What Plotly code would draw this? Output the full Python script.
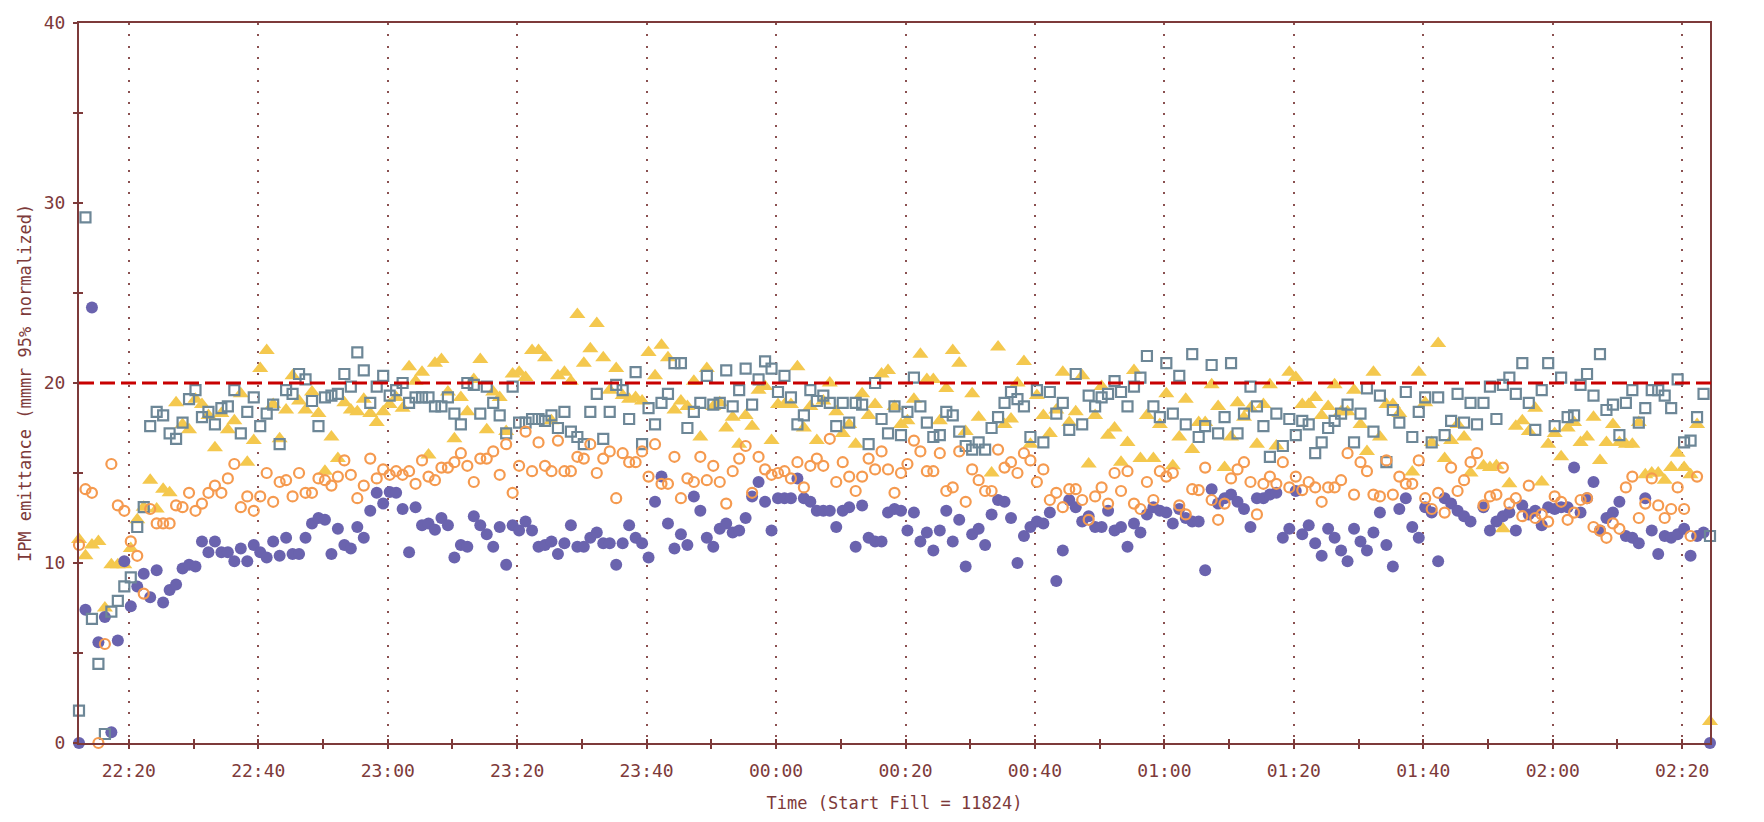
import plotly.graph_objects as go
import pandas as pd

# ---------------- data (one reading per minute, IPM emittance) ----------------
START_TIME = "2024-01-01 22:12:18"
THRESHOLD = 20

purple = [
    0, 7.4, 24.2, 5.6, 7.0, 0.6, 5.7, 10.1, 7.6, 8.7,
    9.4, 8.1, 9.6, 7.8, 8.5, 8.8, 9.7, 9.9, 9.8, 11.2,
    10.6, 11.2, 10.6, 10.6, 10.1, 10.8, 10.1, 11.0, 10.6, 10.3,
    11.2, 10.4, 11.4, 10.5, 10.5, 11.4, 12.2, 12.5, 12.4, 10.5,
    11.9, 11.0, 10.8, 12.0, 11.4, 12.9, 13.9, 13.3, 13.95, 13.9,
    13.0, 10.6, 13.1, 12.1, 12.2, 11.85, 12.5, 12.1, 10.3, 11.0,
    10.9, 12.6, 12.1, 11.6, 10.9, 12.0, 9.9, 12.1, 11.8, 12.3,
    11.8, 10.9, 11.0, 11.2, 10.5, 11.1, 12.1, 10.9, 10.9, 11.4,
    11.7, 11.1, 11.1, 9.9, 11.1, 12.1, 11.4, 11.1, 10.3, 13.4,
    14.8, 12.2, 10.8, 11.6, 11.0, 13.7, 12.9, 11.4, 10.9, 11.9,
    12.2, 11.7, 11.8, 12.5, 13.7, 14.5, 13.4, 11.8, 13.6, 13.6,
    13.6, 14.7, 13.6, 13.4, 12.9, 12.9, 12.9, 12.0, 12.9, 13.1,
    10.9, 13.2, 11.4, 11.2, 11.2, 12.8, 13.0, 12.9, 11.8, 12.8,
    11.2, 11.7, 10.7, 11.8, 12.9, 11.2, 12.4, 9.8, 11.6, 11.9,
    11.0, 12.7, 13.5, 13.4, 12.5, 10.0, 11.5, 12.0, 12.3, 12.2,
    12.8, 9.0, 10.7, 13.5, 13.1, 12.3, 12.6, 12.0, 12.0, 12.9,
    11.8, 12.0, 10.9, 12.2, 11.7, 12.7, 13.1, 12.9, 12.8, 12.2,
    13.0, 12.5, 12.3, 12.3, 9.6, 14.1, 13.3, 13.6, 13.8, 13.4,
    13.0, 12.0, 13.6, 13.6, 13.8, 13.9, 11.4, 11.9, 14.0, 11.6,
    12.1, 11.1, 10.4, 11.9, 11.4, 10.7, 10.1, 11.9, 11.2, 10.7,
    11.7, 12.8, 11.0, 9.8, 13.0, 13.6, 12.0, 11.4, 13.1, 12.8,
    10.1, 13.6, 13.3, 12.9, 12.6, 12.3, None, 13.1, 11.8, 12.3,
    12.6, 12.8, 11.8, 13.2, 12.7, 12.9, 12.1, 13.1, 13.0, 13.1,
    13.1, 15.3, 12.8, 13.6, 14.5, 11.8, 12.5, 12.8, 13.4, 11.5,
    11.4, 11.1, 13.6, 11.8, 10.5, 11.5, 11.4, 11.6, 11.9, 10.4,
    11.5, 11.7, 0,
]

slate = [
    1.8, 29.2, 6.9, 4.4, 0.5, 7.3, 7.9, 8.7, 9.2, 12.0,
    13.1, 17.6, 18.4, 18.2, 17.2, 16.9, 17.8, 19.1, 19.6, 18.1,
    18.4, 17.7, 18.6, 18.7, 19.6, 17.2, 18.4, 19.2, 17.6, 18.3,
    18.8, 16.6, 19.6, 19.4, 20.5, 20.2, 19.0, 17.6, 19.2, 19.3,
    19.4, 20.5, 19.8, 21.7, 20.7, 18.9, 19.8, 20.4, 19.3, 19.6,
    20.0, 18.9, 19.2, 19.2, 19.2, 18.7, 18.7, 19.2, 18.3, 17.7,
    20.0, 19.9, 18.3, 19.8, 18.9, 18.2, 17.2, 19.8, 17.8, 17.8,
    18.0, 18.0, 17.9, 18.2, 17.5, 18.4, 17.3, 17.0, 16.6, 18.4,
    19.4, 16.9, 18.4, 19.9, 19.6, 18.0, 20.6, 16.6, 18.6, 17.7,
    18.9, 19.4, 21.1, 21.1, 17.5, 18.4, 18.9, 20.4, 18.8, 18.9,
    20.7, 18.7, 19.6, 20.8, 18.8, 20.2, 21.2, 20.8, 19.5, 20.4,
    19.2, 17.7, 18.2, 19.6, 19.0, 19.3, 18.9, 17.6, 18.9, 17.8,
    18.9, 18.8, 16.6, 20.0, 18.0, 17.2, 18.7, 17.1, 18.4, 20.3,
    18.7, 17.8, 17.0, 17.1, 18.4, 18.2, 17.3, 16.5, 16.3, 16.7,
    16.3, 17.5, 18.1, 18.9, 19.5, 19.1, 18.7, 17.0, 19.6, 16.7,
    19.5, 18.3, 18.9, 17.4, 20.5, 17.7, 19.3, 18.7, 19.2, 19.4,
    20.1, 19.5, 18.7, 19.8, 20.3, 21.5, 18.7, 18.1, 21.1, 18.3,
    20.4, 17.7, 21.6, 17.0, 17.6, 21.0, 17.2, 18.1, 21.1, 17.2,
    18.3, 19.8, 18.7, 17.6, 15.9, 18.3, 16.5, 18.0, 17.1, 17.9,
    17.7, 16.1, 16.7, 17.5, 17.9, 18.3, 18.8, 16.7, 18.3, 19.7,
    17.3, 19.3, 15.6, 18.5, 17.8, 19.5, 17.0, 18.4, 19.2, 16.7,
    19.2, 17.1, 17.9, 19.4, 17.8, 18.9, 17.7, 18.9, 19.8, 18.0,
    19.9, 20.3, 19.4, 21.1, 18.9, 17.4, 19.6, 21.1, 17.6, 20.3,
    18.1, 18.2, 19.9, 20.5, 19.3, 21.6, 18.5, 18.8, 17.1, 18.9,
    19.6, 17.8, 18.6, 19.6, 19.6, 19.3, 18.6, 20.2, 16.7, 16.8,
    18.1, 19.4, 11.5,
]

orange = [
    11.0, 14.1, 13.9, 0.0, 5.5, 15.5, 13.2, 12.9, 11.2, 10.4,
    8.3, 13.0, 12.2, 12.2, 12.2, 13.2, 13.1, 13.9, 12.9, 13.3,
    13.9, 14.3, 13.9, 14.7, 15.5, 13.1, 13.7, 12.9, 13.7, 15.0,
    13.4, 14.5, 14.6, 13.7, 15.0, 13.9, 13.9, 14.7, 14.6, 14.3,
    14.8, 15.7, 14.9, 13.6, 14.3, 15.8, 14.7, 15.2, 14.9, 15.1,
    14.9, 15.1, 14.4, 15.7, 14.8, 14.6, 15.3, 15.3, 15.6, 16.1,
    15.4, 14.5, 15.8, 15.8, 16.2, 14.9, 16.6, 13.9, 15.4, 17.3,
    15.1, 16.7, 15.4, 15.1, 16.8, 15.1, 15.1, 15.9, 15.8, 16.6,
    15.0, 15.8, 16.2, 13.6, 16.1, 15.6, 15.6, 16.2, 14.8, 16.6,
    14.4, 14.4, 15.9, 13.6, 14.7, 14.5, 15.9, 14.6, 15.4, 14.5,
    13.3, 15.1, 15.8, 16.5, 13.9, 15.9, 15.2, 14.9, 15.0, 15.1,
    14.7, 15.6, 14.2, 15.4, 15.8, 15.4, 16.9, 14.5, 15.6, 14.8,
    14.0, 14.8, 15.8, 15.2, 16.2, 15.2, 13.9, 15.0, 15.5, 16.8,
    16.2, 15.1, 15.1, 16.1, 14.0, 14.2, 16.2, 13.4, 15.2, 14.6,
    14.0, 14.0, 16.3, 15.3, 15.6, 15.0, 16.1, 15.7, 14.5, 15.2,
    13.5, 13.9, 13.1, 14.1, 14.1, 13.5, 12.4, 13.7, 14.2, 13.3,
    15.0, 14.0, 15.1, 13.3, 13.0, 14.5, 13.5, 15.1, 14.8, 15.0,
    13.2, 12.7, 14.1, 14.05, 15.3, 13.5, 12.4, 13.3, 14.7, 15.2,
    15.6, 14.5, 12.7, 14.4, 14.8, 14.4, 15.6, 14.2, 14.8, 14.05,
    14.5, 14.2, 13.4, 14.2, 14.2, 14.6, 16.1, 13.8, 15.6, 15.1,
    13.8, 13.7, 15.7, 13.8, 14.8, 14.4, 14.4, 15.7, 13.6, 13.0,
    13.9, 12.8, 15.3, 14.0, 14.6, 15.6, 16.1, 13.2, 13.7, 13.8,
    15.3, 13.3, 13.6, 12.6, 14.3, 12.5, 12.7, 12.3, 13.7, 13.4,
    12.4, 12.8, 13.5, 13.6, 12.0, 11.8, 11.4, 12.2, 11.9, 14.2,
    14.8, 12.5, 13.3, 14.7, 13.2, 12.5, 13.0, 14.2, 13.0, 11.5,
    14.8, None, None,
]

yellow = [
    11.3, 10.4, 11.0, 11.2, 7.5, 9.9, 9.9, 9.9, 10.8, 12.4,
    13.1, 14.6, 13.0, 14.1, 13.9, 18.9, 17.7, 17.4, 19.1, 18.8,
    18.2, 16.4, 18.3, 17.4, 17.9, 19.4, 15.6, 16.8, 20.8, 21.8,
    18.8, 16.9, 18.5, 20.4, 19.0, 18.5, 19.5, 18.3, 15.1, 17.0,
    15.8, 18.9, 18.5, 18.4, 19.1, 18.3, 17.8, 18.4, 18.8, 19.2,
    18.6, 20.9, 20.1, 20.6, 16.0, 21.1, 21.3, 19.5, 16.9, 19.2,
    18.4, 20.2, 21.3, 17.4, 19.5, 19.2, 17.3, 20.5, 20.6, 20.3,
    21.8, 21.8, 21.4, 17.9, 20.4, 20.6, 20.1, 23.8, 21.1, 21.9,
    23.3, 21.4, 19.6, 20.8, 19.3, 19.1, 19.2, 19.0, 21.7, 20.4,
    22.1, 21.4, 18.5, 19.0, 18.7, 20.1, 17.0, 20.8, 18.7, 18.9,
    17.5, 18.1, 16.6, 18.2, 17.6, 19.6, 19.8, 16.8, 18.8, 18.8,
    18.8, 20.9, 17.5, 18.7, 16.8, 19.0, 20.0, 18.4, 17.2, 17.7,
    16.6, 19.4, 18.2, 18.8, 20.5, 20.7, 18.7, 17.7, 17.9, 19.1,
    21.6, 20.2, 20.2, 17.9, 19.7, 21.8, 21.1, 17.3, 19.4, 18.1,
    None, 15.0, 22.0, 17.7, 18.0, 20.0, 21.2, 16.6, 19.3, 18.2,
    17.2, 18.5, 20.6, 17.8, 18.4, 20.4, 15.5, 18.2, 19.8, 17.1,
    17.5, 15.6, 16.7, 20.7, 15.8, 18.2, 15.8, 17.7, 19.4, 15.4,
    17.0, 19.1, 16.3, 17.8, 17.8, 19.9, 18.7, 15.3, 17.0, 18.9,
    18.1, 18.6, 16.6, 18.8, 19.9, 16.5, None, 20.6, 20.3, 18.8,
    18.8, 19.2, 18.2, 18.7, 19.9, 18.4, 18.4, 19.6, 17.7, 16.2,
    20.6, 17.0, 18.8, 18.8, 18.3, None, 15.05, 20.6, 18.9, 16.7,
    22.2, 15.8, 16.8, 17.7, 17.0, 15.0, None, 15.4, 15.3, 15.4,
    11.9, 14.4, 17.6, 17.9, 17.3, 18.6, 14.5, 16.6, 17.2, 15.9,
    17.5, 17.8, 16.7, 17.0, 18.1, 15.7, 16.7, 17.7, 16.7, 16.6,
    16.6, 17.8, 14.9, 15.0, 15.0, 14.6, 15.3, 16.1, 15.3, 14.9,
    17.7, None, 1.2,
]

for name, arr in [("purple", purple), ("slate", slate), ("orange", orange), ("yellow", yellow)]:
    if len(arr) != 253:
        raise SystemExit(f"{name} has {len(arr)} values")

times = pd.date_range(START_TIME, periods=len(purple), freq="1min")

# ---------------- styling ----------------
AX = "#7d3a3a"
FONT = "DejaVu Sans Mono"
C_PURPLE = "#6a63ae"
C_SLATE = "#6d8797"
C_ORANGE = "#f59a4f"
C_YELLOW = "#f4c84e"

fig = go.Figure()
fig.add_trace(go.Scatter(x=times, y=yellow, mode="markers", cliponaxis=False,
                         marker=dict(symbol="triangle-up", size=14, color=C_YELLOW, line=dict(width=0))))
fig.add_trace(go.Scatter(x=times, y=purple, mode="markers", cliponaxis=False,
                         marker=dict(symbol="circle", size=12, color=C_PURPLE, line=dict(width=0))))
fig.add_trace(go.Scatter(x=times, y=slate, mode="markers", cliponaxis=False,
                         marker=dict(symbol="square-open", size=10, color=C_SLATE, line=dict(width=2.2, color=C_SLATE))))
fig.add_trace(go.Scatter(x=times, y=orange, mode="markers", cliponaxis=False,
                         marker=dict(symbol="circle-open", size=10, color=C_ORANGE, line=dict(width=2.2, color=C_ORANGE))))
# dummy trace for the overlay axes (inner half of the crossing ticks)
fig.add_trace(go.Scatter(x=[times[0]], y=[None], xaxis="x2", yaxis="y2", mode="markers",
                         hoverinfo="skip", showlegend=False))

fig.add_shape(type="line", xref="paper", x0=0, x1=1.003, yref="y", y0=THRESHOLD, y1=THRESHOLD,
              line=dict(color="#c80000", width=3, dash="15px,6px"), layer="above")

x_range = [times[0], times[-1]]
tick0 = "2024-01-01 22:20:00"
major = 20 * 60 * 1000
minor = 10 * 60 * 1000

fig.update_layout(
    width=1764, height=822, autosize=False,
    margin=dict(l=79, r=54, t=16, b=78),
    paper_bgcolor="white", plot_bgcolor="white",
    showlegend=False,
    xaxis=dict(
        type="date", range=x_range, tick0=tick0, dtick=major, tickformat="%H:%M",
        showline=True, linecolor=AX, linewidth=2, mirror=True,
        ticks="outside", ticklen=4, tickwidth=2, tickcolor=AX,
        minor=dict(dtick=minor, tick0=tick0, ticks="outside", ticklen=4, tickwidth=2, tickcolor=AX, showgrid=False),
        showgrid=True, gridcolor="#8a5050", gridwidth=1.6, griddash="2px,9.3px",
        zeroline=False, ticklabelstandoff=6,
        tickfont=dict(family=FONT, size=18, color=AX),
        title=dict(text="Time (Start Fill = 11824)", font=dict(family=FONT, size=17, color=AX), standoff=18),
    ),
    yaxis=dict(
        range=[0, 40], tick0=0, dtick=10,
        showline=True, linecolor=AX, linewidth=2, mirror=True,
        ticks="outside", ticklen=4, tickwidth=2, tickcolor=AX,
        minor=dict(dtick=5, ticks="outside", ticklen=4, tickwidth=2, tickcolor=AX, showgrid=False),
        showgrid=False, zeroline=False, ticklabelstandoff=4,
        tickfont=dict(family=FONT, size=18, color=AX),
        title=dict(text="IPM emittance (mmmr 95% normalized)", font=dict(family=FONT, size=17, color=AX), standoff=8),
    ),
    xaxis2=dict(
        type="date", range=x_range, overlaying="x", anchor="y2", side="bottom",
        tick0=tick0, dtick=major, ticks="inside", ticklen=4, tickwidth=2, tickcolor=AX,
        minor=dict(dtick=minor, tick0=tick0, ticks="inside", ticklen=4, tickwidth=2, tickcolor=AX, showgrid=False),
        showticklabels=False, showgrid=False, showline=False, zeroline=False,
    ),
    yaxis2=dict(
        range=[0, 40], overlaying="y", anchor="x2", side="left",
        tick0=0, dtick=10, ticks="inside", ticklen=4, tickwidth=2, tickcolor=AX,
        minor=dict(dtick=5, ticks="inside", ticklen=4, tickwidth=2, tickcolor=AX, showgrid=False),
        showticklabels=False, showgrid=False, showline=False, zeroline=False,
    ),
)

fig.write_html("out.html")
